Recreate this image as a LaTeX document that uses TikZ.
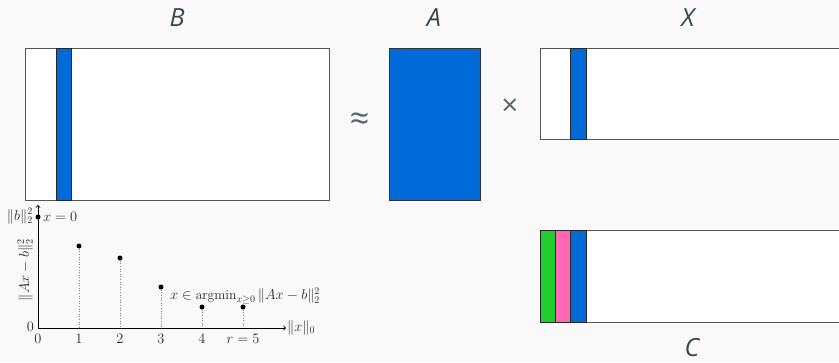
\documentclass[tikz,border=0pt]{standalone}
\usepackage{amsmath}
\usepackage{fontspec}
\newfontfamily\labelfont{Open Sans}
\DeclareMathOperator*{\argmin}{argmin}
\definecolor{bg}{HTML}{F9F9F9}
\definecolor{mblue}{HTML}{006AD9}
\definecolor{mgreen}{HTML}{22CC2E}
\definecolor{mpink}{HTML}{FF69B4}
\definecolor{slate}{HTML}{37474F}
\definecolor{opgray}{HTML}{56666C}
\definecolor{edgegray}{HTML}{555555}
\definecolor{plottext}{HTML}{2A2A2A}
\tikzset{
  mat/.style={draw=edgegray, line width=1.3pt, fill=white, inner sep=0pt, anchor=north west},
  stripe/.style={draw=black!85, line width=1pt, inner sep=0pt, anchor=north west},
  lbl/.style={font=\labelfont\itshape\fontsize{25}{28}\selectfont, text=slate},
  opsym/.style={font=\labelfont\fontsize{34}{36}\selectfont, text=opgray, inner sep=0pt},
  pt/.style={circle, fill=black, inner sep=0pt, minimum size=5pt},
  ptxt/.style={font=\fontsize{13.6}{16}\selectfont, text=plottext, inner sep=1pt},
  axis/.style={line width=0.9pt, ->},
  drop/.style={dotted, gray, line width=0.6pt}
}
\begin{document}
\begin{tikzpicture}[x=1pt,y=-1pt]
\fill[bg] (0,0) rectangle (839,362);
\useasboundingbox (0,0) rectangle (839,362);
\clip (0,0) rectangle (839,362);
% labels
\node[lbl] (Blbl) at (177,18) {B};
\node[lbl] (Albl) at (434,18) {A};
\node[lbl] (Xlbl) at (688,18) {X};
\node[lbl] (Clbl) at (692,348) {C};
\node[opsym] (approx) at (359.5,121.5) {≈};
\node[opsym, font=\labelfont\fontsize{29}{30}\selectfont] (times) at (510,107.5) {×};
% B
\node[mat, minimum width=304pt, minimum height=152pt] (B) at (25,48) {};
\node[stripe, fill=mblue, minimum width=15pt, minimum height=152pt] (Bs) at (56,48) {};
% A
\node[mat, fill=mblue, draw=black!80, minimum width=91pt, minimum height=152pt] (A) at (389,48) {};
% X
\node[mat, minimum width=330pt, minimum height=91pt] (X) at (540,48) {};
\node[stripe, fill=mblue, minimum width=16pt, minimum height=91pt] (Xs) at (570,48) {};
% C
\node[mat, minimum width=330pt, minimum height=92pt] (C) at (540,230) {};
\node[stripe, fill=mgreen, minimum width=15pt, minimum height=92pt] (Cg) at (540,230) {};
\node[stripe, fill=mpink, minimum width=15pt, minimum height=92pt] (Cp) at (555,230) {};
\node[stripe, fill=mblue, minimum width=16pt, minimum height=92pt] (Cb) at (570,230) {};
% plot
\coordinate (O) at (38,328);
\coordinate (Ytop) at (38,205);
\coordinate (Xend) at (286,328);
\node[pt] (p0) at (38,217) {};
\node[pt] (p1) at (79,246) {};
\node[pt] (p2) at (120,258) {};
\node[pt] (p3) at (161,287) {};
\node[pt] (p4) at (202,307) {};
\node[pt] (p5) at (243,307) {};
\foreach \p in {p1,p2,p3,p4,p5} \draw[drop] (\p.south) -- (\p |- O);
\draw[axis] (O) -- (Ytop);
\draw[axis] (O) -- (Xend);
\node[ptxt, anchor=west] (xn) at (Xend) {$\|x\|_0$};
\node[ptxt, anchor=east] (bn) at (34,216) {$\|b\|_2^2$};
\node[ptxt, anchor=west] (x0) at (42,217) {$x=0$};
\node[ptxt, anchor=east] (zero) at (35,327) {$0$};
\node[ptxt] (t0) at (38,339) {$0$};
\node[ptxt] (t1) at (79,339) {$1$};
\node[ptxt] (t2) at (120,339) {$2$};
\node[ptxt] (t3) at (161,339) {$3$};
\node[ptxt] (t4) at (202,339) {$4$};
\node[ptxt] (t5) at (243,339) {$r=5$};
\node[ptxt, anchor=west] (am) at (169,296) {$x\in\argmin_{x\geq0}\|Ax-b\|_2^2$};
\node[ptxt, rotate=90] (yl) at (25,270) {$\|Ax-b\|_2^2$};
\end{tikzpicture}
\end{document}
